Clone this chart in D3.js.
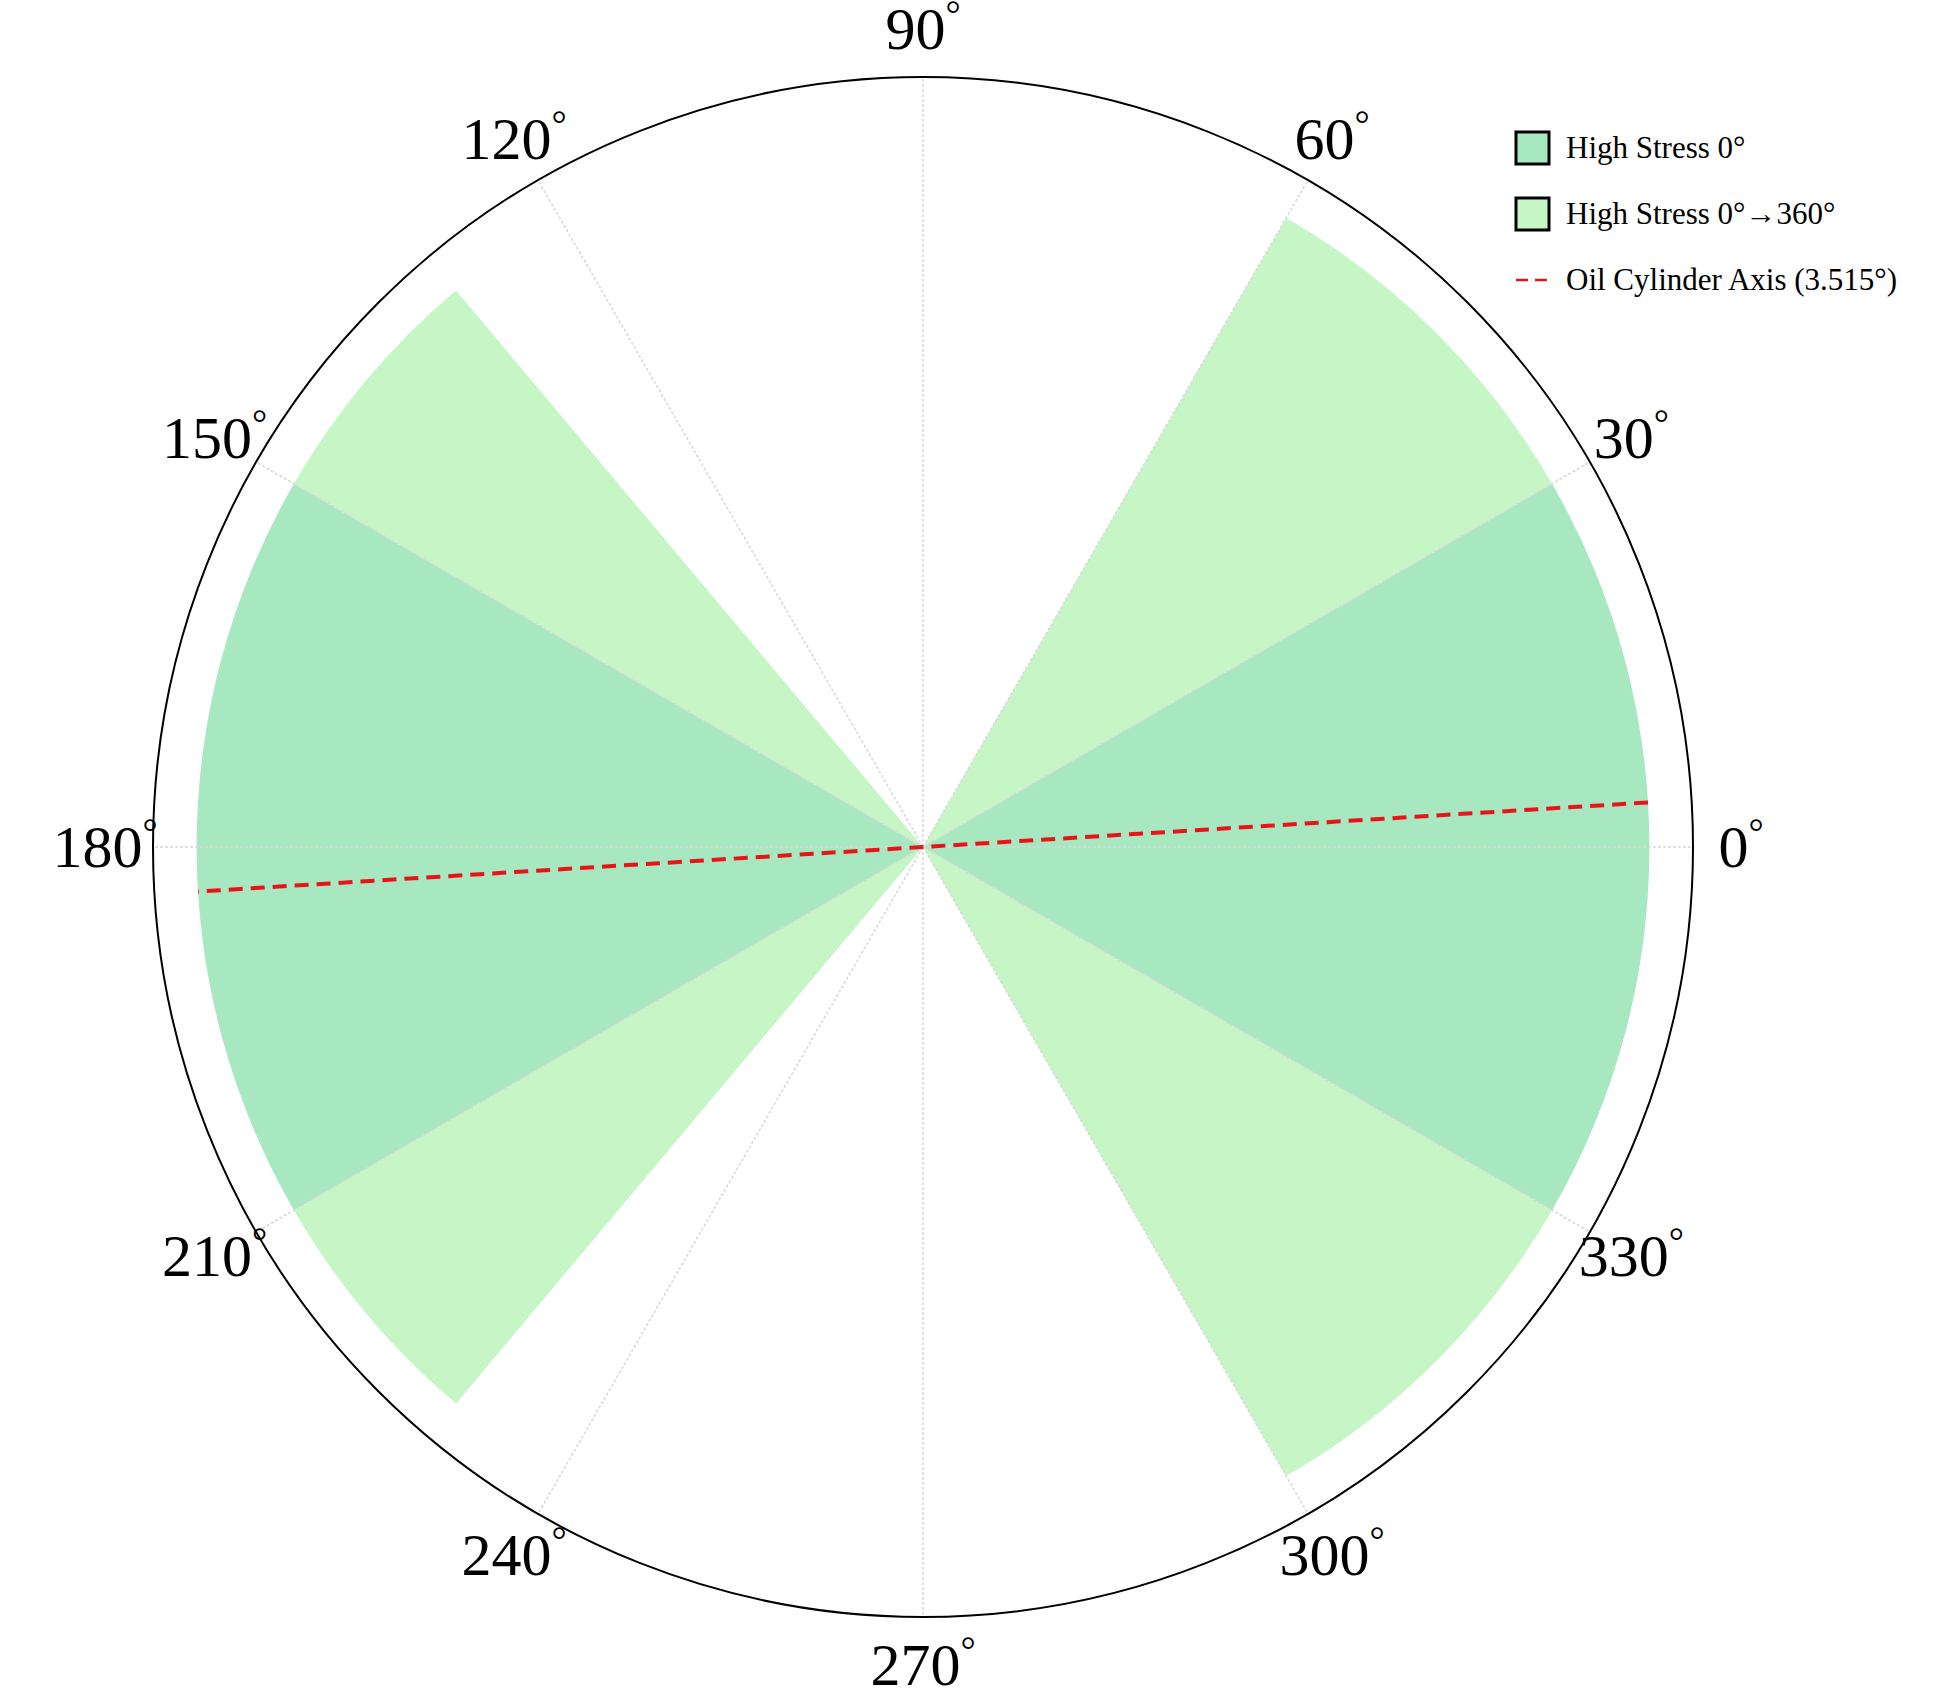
<!DOCTYPE html>
<html><head><meta charset="utf-8">
<script src="https://cdn.jsdelivr.net/npm/d3@7"></script>
<style>body{margin:0;background:#fff}</style>
</head><body>
<script>
// sectors in degrees (math convention, counter-clockwise from east)
const darkSectors = [[-30, 30], [150, 210]];
const lightSectors = [[30, 60], [130, 150], [210, 230], [300, 330]];
const sectorValue = 1;
const axisAngle = 3.515;
const tickAngles = d3.range(0, 360, 30);
const legendItems = [
  {label: "High Stress 0°", type: "box", color: "#a8e8c0"},
  {label: "High Stress 0°\u2192360°", type: "box", color: "#c6f5c6"},
  {label: "Oil Cylinder Axis (3.515°)", type: "line", color: "#e8141a"}
];

const W = 1956, H = 1702, cx = 923, cy = 847, R = 770;
const serif = "'Liberation Serif', 'DejaVu Serif', 'Times New Roman', serif";
const svg = d3.select("body").append("svg").attr("width", W).attr("height", H)
  .attr("font-family", serif);
const r = d3.scaleLinear().domain([0, 1.06]).range([0, R]);
const g = svg.append("g").attr("transform", `translate(${cx},${cy})`);

// d3.arc angles are clockwise from north; convert from math degrees
const toArc = a => (90 - a) * Math.PI / 180;
const arc = d3.arc().innerRadius(0).outerRadius(r(sectorValue))
  .startAngle(d => toArc(d[1])).endAngle(d => toArc(d[0]));

g.selectAll(".dark").data(darkSectors).join("path")
  .attr("d", arc).attr("fill", "#a8e8c0");
g.selectAll(".light").data(lightSectors).join("path")
  .attr("d", arc).attr("fill", "#c6f5c6");

const pt = (a, rad) => [rad * Math.cos(a * Math.PI / 180), -rad * Math.sin(a * Math.PI / 180)];

g.selectAll(".grid").data(tickAngles).join("line")
  .attr("x1", 0).attr("y1", 0)
  .attr("x2", d => pt(d, R)[0]).attr("y2", d => pt(d, R)[1])
  .attr("stroke", "#d8d8d8").attr("stroke-width", 1.5).attr("stroke-dasharray", "3,2");

g.append("circle").attr("r", R).attr("fill", "none").attr("stroke", "#000").attr("stroke-width", 2);

const a1 = pt(axisAngle, r(sectorValue)), a2 = pt(axisAngle + 180, r(sectorValue));
g.append("line").attr("x1", a1[0]).attr("y1", a1[1]).attr("x2", a2[0]).attr("y2", a2[1])
  .attr("stroke", "#e8141a").attr("stroke-width", 4).attr("stroke-dasharray", "14,8");

const tick = g.selectAll(".tick").data(tickAngles).join("text")
  .attr("x", d => pt(d, 818)[0]).attr("y", d => pt(d, 818)[1] + 20)
  .attr("text-anchor", "middle")
  .attr("font-size", 60);
tick.append("tspan").text(d => d);
tick.append("tspan").attr("dy", -22).attr("font-size", 38).text("°");

const lg = svg.append("g").attr("transform", "translate(1516,148)");
const row = lg.selectAll("g").data(legendItems).join("g")
  .attr("transform", (d, i) => `translate(0,${i * 66})`);
row.filter(d => d.type === "box").append("rect")
  .attr("x", 0).attr("y", -16).attr("width", 33).attr("height", 32)
  .attr("fill", d => d.color).attr("stroke", "#000").attr("stroke-width", 3);
row.filter(d => d.type === "line").append("line")
  .attr("x1", 0).attr("x2", 34).attr("y1", 0).attr("y2", 0)
  .attr("stroke", d => d.color).attr("stroke-width", 2.5).attr("stroke-dasharray", "12,7");
row.append("text").attr("x", 50).attr("y", 10)
  .attr("font-size", 31).text(d => d.label);
</script>
</body></html>
